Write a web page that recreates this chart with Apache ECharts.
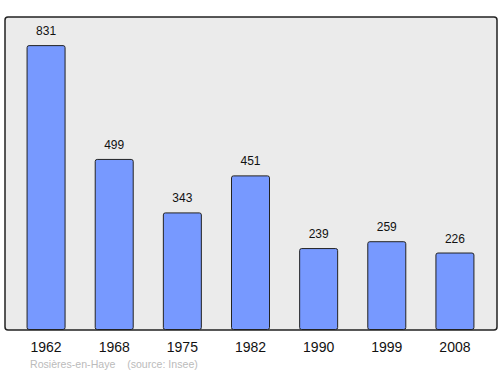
<!DOCTYPE html>
<html>
<head>
<meta charset="utf-8">
<script src="https://cdn.jsdelivr.net/npm/echarts@6/dist/echarts.min.js"></script>
<style>html,body{margin:0;padding:0;background:#fff;}#c{width:500px;height:374px;}</style>
</head>
<body>
<div id="c"></div>
<script>
const categories = ['1962', '1968', '1975', '1982', '1990', '1999', '2008'];
const population = [831, 499, 343, 451, 239, 259, 226];
const sourceText = 'Rosières-en-Haye    (source: Insee)';

const chart = echarts.init(document.getElementById('c'), null, {renderer: 'svg'});
chart.setOption({
  animation: false,
  backgroundColor: '#fff',
  graphic: [
    {type: 'rect', z: -10, shape: {x: 5, y: 17, width: 492, height: 313, r: 3},
     style: {fill: '#ebebeb', stroke: '#222', lineWidth: 1.5}},
    {type: 'text', left: 30, top: 358, style: {text: sourceText, fill: '#bbb', font: '10.6px "Liberation Sans", Arial, sans-serif'}}
  ],
  grid: {left: 12, right: 11, top: 17, bottom: 44},
  xAxis: {
    type: 'category', data: categories,
    axisLine: {show: false}, axisTick: {show: false},
    axisLabel: {color: '#111', fontSize: 14, margin: 10, fontFamily: 'Liberation Sans, Arial, sans-serif'}
  },
  yAxis: {type: 'value', min: 0, max: 913, show: false, splitLine: {show: false}},
  series: [{
    type: 'bar', data: population, barWidth: 39,
    itemStyle: {color: '#7799ff', borderColor: '#222', borderWidth: 1, borderRadius: 2},
    label: {show: true, position: 'top', distance: 8, color: '#111', fontSize: 12, fontFamily: 'Liberation Sans, Arial, sans-serif'}
  }]
});
</script>
</body>
</html>
